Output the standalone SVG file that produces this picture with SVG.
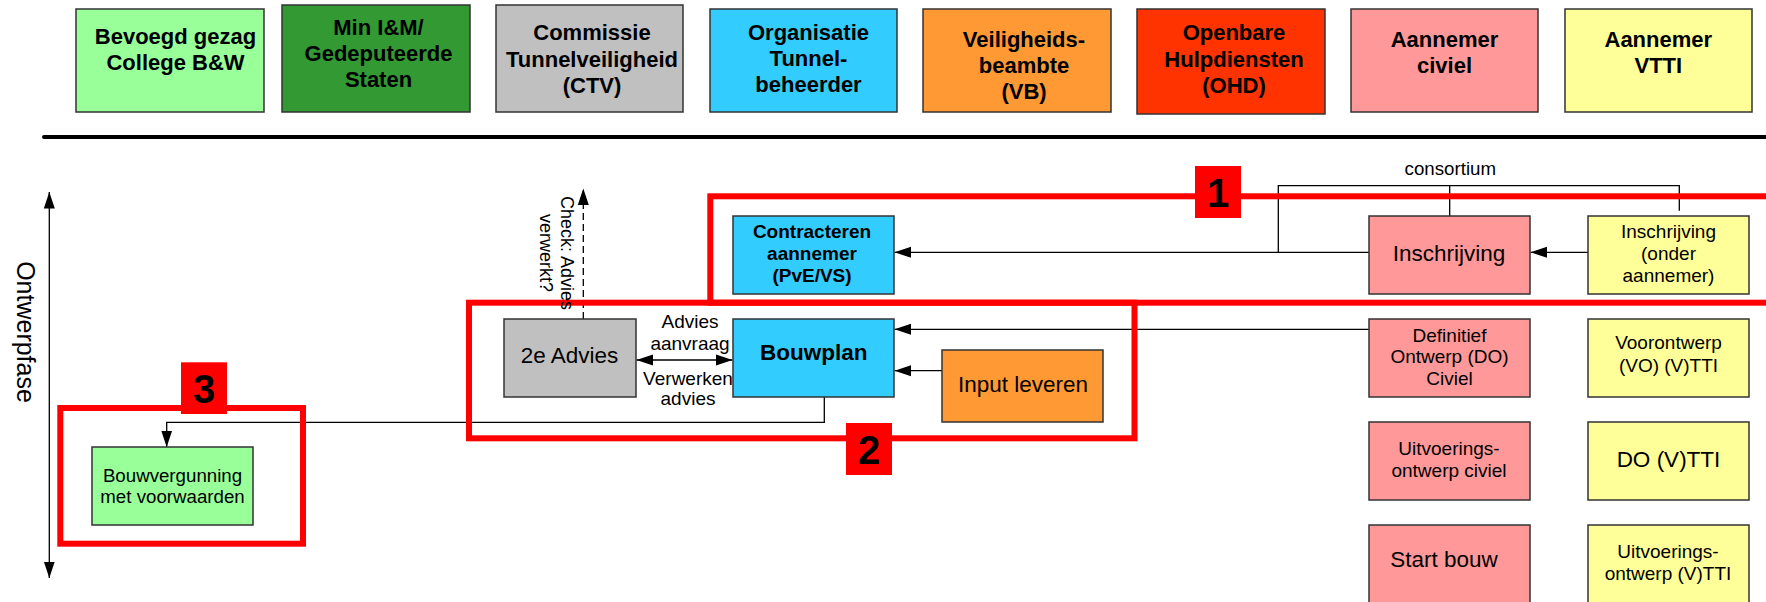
<svg xmlns="http://www.w3.org/2000/svg" width="1766" height="602" viewBox="0 0 1766 602">
<style>
text{font-family:"Liberation Sans",Arial,sans-serif;fill:#000}
.box{stroke:#333;stroke-width:1.5}
.h{font-size:22px;font-weight:bold;text-anchor:middle}
.t{font-size:19px;text-anchor:middle}
.L{font-size:22.5px;text-anchor:middle}
.b{font-weight:bold}
.c{fill:none;stroke:#000;stroke-width:1.3}
.red{fill:none;stroke:#ff0000;stroke-width:6}
.sq{fill:#ff0000}
.num{font-size:40px;font-weight:bold;text-anchor:middle}
.g1{fill:#99ff99}.g2{fill:#339933}.gr{fill:#c0c0c0}.cy{fill:#33ccff}.or{fill:#ff9933}.rd{fill:#ff3300}.pk{fill:#ff9999}.ye{fill:#ffff99}
</style>
<defs>
<marker id="ah" markerUnits="userSpaceOnUse" markerWidth="17" markerHeight="12" refX="16.5" refY="6" orient="auto-start-reverse"><path d="M0,0.5 L16.5,6 L0,11.5 z" fill="#000"/></marker>
</defs>
<rect width="1766" height="602" fill="#fff"/>

<g id="header">
<g id="h-bevoegd"><rect class="box g1" x="76" y="9" width="188" height="103"/><text class="h" x="175.5" y="44">Bevoegd gezag</text><text class="h" x="175.5" y="70">College B&amp;W</text></g>
<g id="h-min"><rect class="box g2" x="282" y="5" width="188" height="107"/><text class="h" x="378.5" y="34.5">Min I&amp;M/</text><text class="h" x="378.5" y="60.5">Gedeputeerde</text><text class="h" x="378.5" y="86.5">Staten</text></g>
<g id="h-ctv"><rect class="box gr" x="496" y="5" width="187" height="107"/><text class="h" x="592" y="40">Commissie</text><text class="h" x="592" y="66.5">Tunnelveiligheid</text><text class="h" x="592" y="93">(CTV)</text></g>
<g id="h-org"><rect class="box cy" x="710" y="9" width="187" height="103"/><text class="h" x="808.5" y="39.5">Organisatie</text><text class="h" x="808.5" y="65.5">Tunnel-</text><text class="h" x="808.5" y="91.5">beheerder</text></g>
<g id="h-vb"><rect class="box or" x="923" y="9" width="188" height="103"/><text class="h" x="1024" y="46.5">Veiligheids-</text><text class="h" x="1024" y="72.5">beambte</text><text class="h" x="1024" y="98.5">(VB)</text></g>
<g id="h-ohd"><rect class="box rd" x="1137" y="9" width="188" height="105"/><text class="h" x="1234" y="40">Openbare</text><text class="h" x="1234" y="66.5">Hulpdiensten</text><text class="h" x="1234" y="93">(OHD)</text></g>
<g id="h-civiel"><rect class="box pk" x="1351" y="9" width="187" height="103"/><text class="h" x="1444.5" y="46.5">Aannemer</text><text class="h" x="1444.5" y="73">civiel</text></g>
<g id="h-vtti"><rect class="box ye" x="1565" y="9" width="187" height="103"/><text class="h" x="1658.3" y="46.5">Aannemer</text><text class="h" x="1658.3" y="73">VTTI</text></g>
<line x1="44" y1="137" x2="1766" y2="137" stroke="#000" stroke-width="4" stroke-linecap="round"/>
</g>

<g id="connectors">
<path class="c" d="M49.3,578 V192" marker-start="url(#ah)" marker-end="url(#ah)"/>
<path class="c" d="M1588,252.3 H1530.5" marker-end="url(#ah)"/>
<path class="c" d="M1369,252.3 H894.5" marker-end="url(#ah)"/>
<path class="c" d="M1278.3,252.3 V185.7 H1679.3 V210.7 M1449.7,185.7 V216"/>
<path class="c" d="M1369,329.3 H894.5" marker-end="url(#ah)"/>
<path class="c" d="M942,370.7 H894.5" marker-end="url(#ah)"/>
<path class="c" d="M636.5,360 H732.5" marker-start="url(#ah)" marker-end="url(#ah)"/>
<path class="c" d="M583.3,319 V188.5" stroke-dasharray="7 4" marker-end="url(#ah)"/>
<path class="c" d="M824.3,397 V422.3 H166.7 V447" marker-end="url(#ah)"/>
<text x="1450.3" y="175" font-size="18.7" text-anchor="middle">consortium</text>
<text class="t" x="690" y="328.3">Advies</text>
<text class="t" x="690" y="350">aanvraag</text>
<text class="t" x="688" y="385">Verwerken</text>
<text class="t" x="688" y="405">advies</text>
</g>

<g id="frames">
<rect class="red" x="710.3" y="196.3" width="1100" height="106.4"/>
<rect class="red" x="469" y="302.7" width="665.5" height="135.6"/>
<rect class="red" x="60.3" y="408" width="242.7" height="135.7"/>
<g id="label-1"><rect class="sq" x="1195" y="166" width="46" height="52"/><text class="num" x="1218" y="207">1</text></g>
<g id="label-2"><rect class="sq" x="846" y="423" width="46" height="52"/><text class="num" x="869" y="464">2</text></g>
<g id="label-3"><rect class="sq" x="181" y="362.3" width="46" height="51.7"/><text class="num" x="204" y="403">3</text></g>
</g>

<g id="axis-label"><text transform="translate(17,332) rotate(90)" font-size="25" text-anchor="middle">Ontwerpfase</text></g>
<g id="check-label"><text transform="translate(561,253) rotate(90)" font-size="18" text-anchor="middle">Check: Advies<tspan x="0" dy="21.5">verwerkt?</tspan></text></g>

<g id="n-contracteren"><rect class="box cy" x="733" y="216" width="161" height="78"/><text class="t b" x="812" y="238.3">Contracteren</text><text class="t b" x="812" y="260">aannemer</text><text class="t b" x="812" y="281.7">(PvE/VS)</text></g>
<g id="n-bouwplan"><rect class="box cy" x="733" y="319" width="161" height="78"/><text class="L b" x="813.8" y="360">Bouwplan</text></g>
<g id="n-2eadvies"><rect class="box gr" x="504" y="319" width="132" height="78"/><text class="L" x="569.5" y="363.3">2e Advies</text></g>
<g id="n-input"><rect class="box or" x="942" y="350" width="161" height="72"/><text class="L" x="1023" y="391.7">Input leveren</text></g>
<g id="n-inschrijving"><rect class="box pk" x="1369" y="216" width="161" height="78"/><text class="L" x="1449" y="261">Inschrijving</text></g>
<g id="n-inschrijving-onder"><rect class="box ye" x="1588" y="216" width="161" height="78"/><text class="t" x="1668.5" y="238.3">Inschrijving</text><text class="t" x="1668.5" y="260">(onder</text><text class="t" x="1668.5" y="281.7">aannemer)</text></g>
<g id="n-definitief"><rect class="box pk" x="1369" y="319" width="161" height="78"/><text class="t" x="1449.5" y="341.7">Definitief</text><text class="t" x="1449.5" y="363.3">Ontwerp (DO)</text><text class="t" x="1449.5" y="385">Civiel</text></g>
<g id="n-voorontwerp"><rect class="box ye" x="1588" y="319" width="161" height="78"/><text class="t" x="1668.5" y="349">Voorontwerp</text><text class="t" x="1668.5" y="371.5">(VO) (V)TTI</text></g>
<g id="n-uo-civiel"><rect class="box pk" x="1369" y="422" width="161" height="78"/><text class="t" x="1449" y="455">Uitvoerings-</text><text class="t" x="1449" y="476.7">ontwerp civiel</text></g>
<g id="n-do-vtti"><rect class="box ye" x="1588" y="422" width="161" height="78"/><text class="L" x="1668.5" y="466.7">DO (V)TTI</text></g>
<g id="n-startbouw"><rect class="box pk" x="1369" y="525" width="161" height="80"/><text class="L" x="1444" y="566.7">Start bouw</text></g>
<g id="n-uo-vtti"><rect class="box ye" x="1588" y="525" width="161" height="80"/><text class="t" x="1668" y="558.3">Uitvoerings-</text><text class="t" x="1668" y="580">ontwerp (V)TTI</text></g>
<g id="n-bouwvergunning"><rect class="box g1" x="92" y="447" width="161" height="78"/><text x="172.5" y="481.7" font-size="18.7" text-anchor="middle">Bouwvergunning</text><text x="172.5" y="502.5" font-size="18.7" text-anchor="middle">met voorwaarden</text></g>
</svg>
